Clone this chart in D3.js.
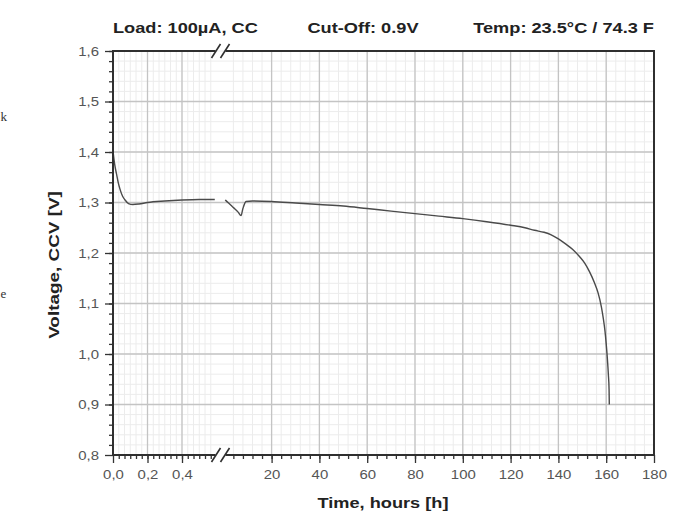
<!DOCTYPE html>
<html>
<head>
<meta charset="utf-8">
<script src="https://cdn.jsdelivr.net/npm/d3@7"></script>
<style>
  html, body { margin: 0; padding: 0; background: #fff; }
  svg { display: block; font-family: "Liberation Sans", Arial, sans-serif; }
  .tick text { transform-box: fill-box; transform: scaleX(1.15); }
  .xax .tick text { transform-origin: center; }
  .yax .tick text { transform-origin: right center; }
  .wide { transform-box: fill-box; transform: scaleX(1.3); }
</style>
</head>
<body>
<svg id="chart" width="690" height="515"></svg>
<script>
// discharge curve, before the axis break (hours 0 .. 0.6)
const earlyHours = [0, 0.01, 0.02, 0.03, 0.04, 0.055, 0.07, 0.09, 0.115, 0.15, 0.2, 0.3, 0.4, 0.5, 0.59];
const earlyVolts = [1.402, 1.375, 1.357, 1.34, 1.327, 1.313, 1.305, 1.298, 1.296, 1.297, 1.300, 1.303, 1.305, 1.306, 1.306];

// after the break (hours 0.6 .. 161)
const lateHours = [0.6, 2, 4, 6, 7.2, 8, 9.3, 12, 20, 30, 40, 50, 60, 70, 80, 90, 100, 110, 120, 126, 130, 134, 137, 140, 143, 146, 149, 151, 153, 155, 156.6, 158, 158.8, 159.5, 160, 160.5, 160.9, 161.2, 161.3];
const lateVolts = [1.305, 1.299, 1.290, 1.281, 1.274, 1.288, 1.302, 1.303, 1.302, 1.299, 1.296, 1.293, 1.288, 1.283, 1.278, 1.273, 1.268, 1.262, 1.255, 1.250, 1.245, 1.241, 1.236, 1.228, 1.218, 1.207, 1.192, 1.180, 1.163, 1.142, 1.121, 1.093, 1.070, 1.045, 1.020, 0.990, 0.960, 0.930, 0.900];

const xTicksEarly = [0, 0.2, 0.4];
const xTicksLate = [20, 40, 60, 80, 100, 120, 140, 160, 180];
const yTicks = [0.8, 0.9, 1.0, 1.1, 1.2, 1.3, 1.4, 1.5, 1.6];

const titles = ["Load: 100µA, CC", "Cut-Off: 0.9V", "Temp: 23.5°C / 74.3 F"];

const svg = d3.select("#chart");

const plotL = 113, plotR = 654, plotT = 51, plotB = 455;
const breakX = 220.5;

const xe = d3.scaleLinear().domain([0, 0.6]).range([plotL, 216.5]);
const xl = d3.scaleLinear().domain([0, 180]).range([223.8, plotR]);
const y = d3.scaleLinear().domain([0.8, 1.6]).range([plotB, plotT]);

const comma = d3.formatLocale({ decimal: ",", thousands: ".", grouping: [3], currency: ["", ""] });
const fmt1 = comma.format(".1f");

const minorEarly = d3.range(1, 18).map(i => i / 30);
const minorLate = d3.range(4, 180, 4);
const minorY = d3.range(0.82, 1.6, 0.02);

// grid
const grid = svg.append("g");
grid.selectAll(".mny").data(minorY).join("line")
  .attr("x1", plotL).attr("x2", plotR)
  .attr("y1", d => y(d)).attr("y2", d => y(d))
  .attr("stroke", "#ececec").attr("stroke-width", 1);
grid.selectAll(".mne").data(minorEarly).join("line")
  .attr("x1", d => xe(d)).attr("x2", d => xe(d))
  .attr("y1", plotT).attr("y2", plotB)
  .attr("stroke", "#ececec").attr("stroke-width", 1);
grid.selectAll(".mnl").data(minorLate).join("line")
  .attr("x1", d => xl(d)).attr("x2", d => xl(d))
  .attr("y1", plotT).attr("y2", plotB)
  .attr("stroke", "#ececec").attr("stroke-width", 1);

grid.selectAll(".mjy").data(yTicks.slice(1, -1)).join("line")
  .attr("x1", plotL).attr("x2", plotR)
  .attr("y1", d => y(d)).attr("y2", d => y(d))
  .attr("stroke", "#c4c4c4").attr("stroke-width", 1.3);
grid.selectAll(".mje").data(xTicksEarly.slice(1)).join("line")
  .attr("x1", d => xe(d)).attr("x2", d => xe(d))
  .attr("y1", plotT).attr("y2", plotB)
  .attr("stroke", "#c4c4c4").attr("stroke-width", 1.3);
grid.selectAll(".mjl").data(xTicksLate.slice(0, -1)).join("line")
  .attr("x1", d => xl(d)).attr("x2", d => xl(d))
  .attr("y1", plotT).attr("y2", plotB)
  .attr("stroke", "#c4c4c4").attr("stroke-width", 1.3);

// curve
const early = earlyHours.map((h, i) => [h, earlyVolts[i]]);
const late = lateHours.map((h, i) => [h, lateVolts[i]]);

svg.append("path").datum(early)
  .attr("fill", "none").attr("stroke", "#4a4a4a").attr("stroke-width", 1.4)
  .attr("d", d3.line().x(d => xe(d[0])).y(d => y(d[1])).curve(d3.curveMonotoneX));
svg.append("path").datum(late)
  .attr("fill", "none").attr("stroke", "#4a4a4a").attr("stroke-width", 1.4)
  .attr("d", d3.line().x(d => xl(d[0])).y(d => y(d[1])).curve(d3.curveMonotoneX));

// axes
function styleAxis(g) {
  g.select(".domain").remove();
  g.selectAll(".tick line").attr("stroke", "#333").attr("stroke-width", 1.3);
  g.selectAll(".tick text").attr("fill", "#555").style("font-size", "13px")
    .style("font-family", "'Liberation Sans', Arial, sans-serif");
}

svg.append("g").attr("class", "xax").attr("transform", `translate(0,${plotB})`)
  .call(d3.axisBottom(xe).tickValues(minorEarly).tickSize(4).tickFormat(""))
  .call(styleAxis);
svg.append("g").attr("class", "xax").attr("transform", `translate(0,${plotB})`)
  .call(d3.axisBottom(xl).tickValues(minorLate).tickSize(4).tickFormat(""))
  .call(styleAxis);
svg.append("g").attr("class", "xax").attr("transform", `translate(0,${plotB})`)
  .call(d3.axisBottom(xe).tickValues(xTicksEarly).tickSize(8).tickPadding(7).tickFormat(fmt1))
  .call(styleAxis);
svg.append("g").attr("class", "xax").attr("transform", `translate(0,${plotB})`)
  .call(d3.axisBottom(xl).tickValues(xTicksLate).tickSize(8).tickPadding(7))
  .call(styleAxis);

svg.append("g").attr("class", "yax").attr("transform", `translate(${plotL},0)`)
  .call(d3.axisLeft(y).tickValues(minorY).tickSize(4).tickFormat(""))
  .call(styleAxis);
svg.append("g").attr("class", "yax").attr("transform", `translate(${plotL},0)`)
  .call(d3.axisLeft(y).tickValues(yTicks).tickSize(8).tickPadding(6).tickFormat(fmt1))
  .call(styleAxis);

// frame with broken x axis
const frame = svg.append("g").attr("stroke", "#2f2f2f").attr("stroke-width", 2).attr("fill", "none");
[plotT, plotB].forEach(yy => {
  frame.append("line").attr("x1", plotL).attr("x2", breakX - 5).attr("y1", yy).attr("y2", yy);
  frame.append("line").attr("x1", breakX + 5).attr("x2", plotR).attr("y1", yy).attr("y2", yy);
  [-4.5, 4.5].forEach(o => {
    frame.append("line").attr("stroke-width", 1.6)
      .attr("x1", breakX + o - 4.5).attr("y1", yy + 7)
      .attr("x2", breakX + o + 4.5).attr("y2", yy - 7);
  });
});
frame.append("line").attr("x1", plotL).attr("x2", plotL).attr("y1", plotT - 1).attr("y2", plotB + 1);
frame.append("line").attr("x1", plotR).attr("x2", plotR).attr("y1", plotT - 1).attr("y2", plotB + 1);

// titles
const titleStyle = t => t.attr("fill", "#222").style("font-size", "14px").style("font-weight", "bold");
svg.append("text").attr("class", "wide").attr("x", plotL).attr("y", 33)
  .style("transform-origin", "left center").text(titles[0]).call(titleStyle);
svg.append("text").attr("class", "wide").attr("x", 363).attr("y", 33).attr("text-anchor", "middle")
  .style("transform-origin", "center").text(titles[1]).call(titleStyle);
svg.append("text").attr("class", "wide").attr("x", plotR).attr("y", 33).attr("text-anchor", "end")
  .style("transform-origin", "right center").text(titles[2]).call(titleStyle);

svg.append("text").attr("class", "wide").attr("x", 383).attr("y", 508).attr("text-anchor", "middle")
  .style("transform-origin", "center").text("Time, hours [h]").call(titleStyle);

svg.append("g").attr("transform", "translate(59,265) rotate(-90)")
  .append("text").attr("class", "wide").attr("text-anchor", "middle")
  .style("transform-origin", "center").style("transform", "scaleX(1.35)")
  .text("Voltage, CCV [V]").call(titleStyle);

// fragments of neighbouring page text at the left edge
svg.append("text").attr("x", 0.5).attr("y", 121).attr("fill", "#333")
  .style("font-family", "'Liberation Serif', serif").style("font-size", "13px").text("k");
svg.append("text").attr("x", 0.5).attr("y", 298).attr("fill", "#333")
  .style("font-family", "'Liberation Serif', serif").style("font-size", "13px").text("e");
</script>
</body>
</html>
